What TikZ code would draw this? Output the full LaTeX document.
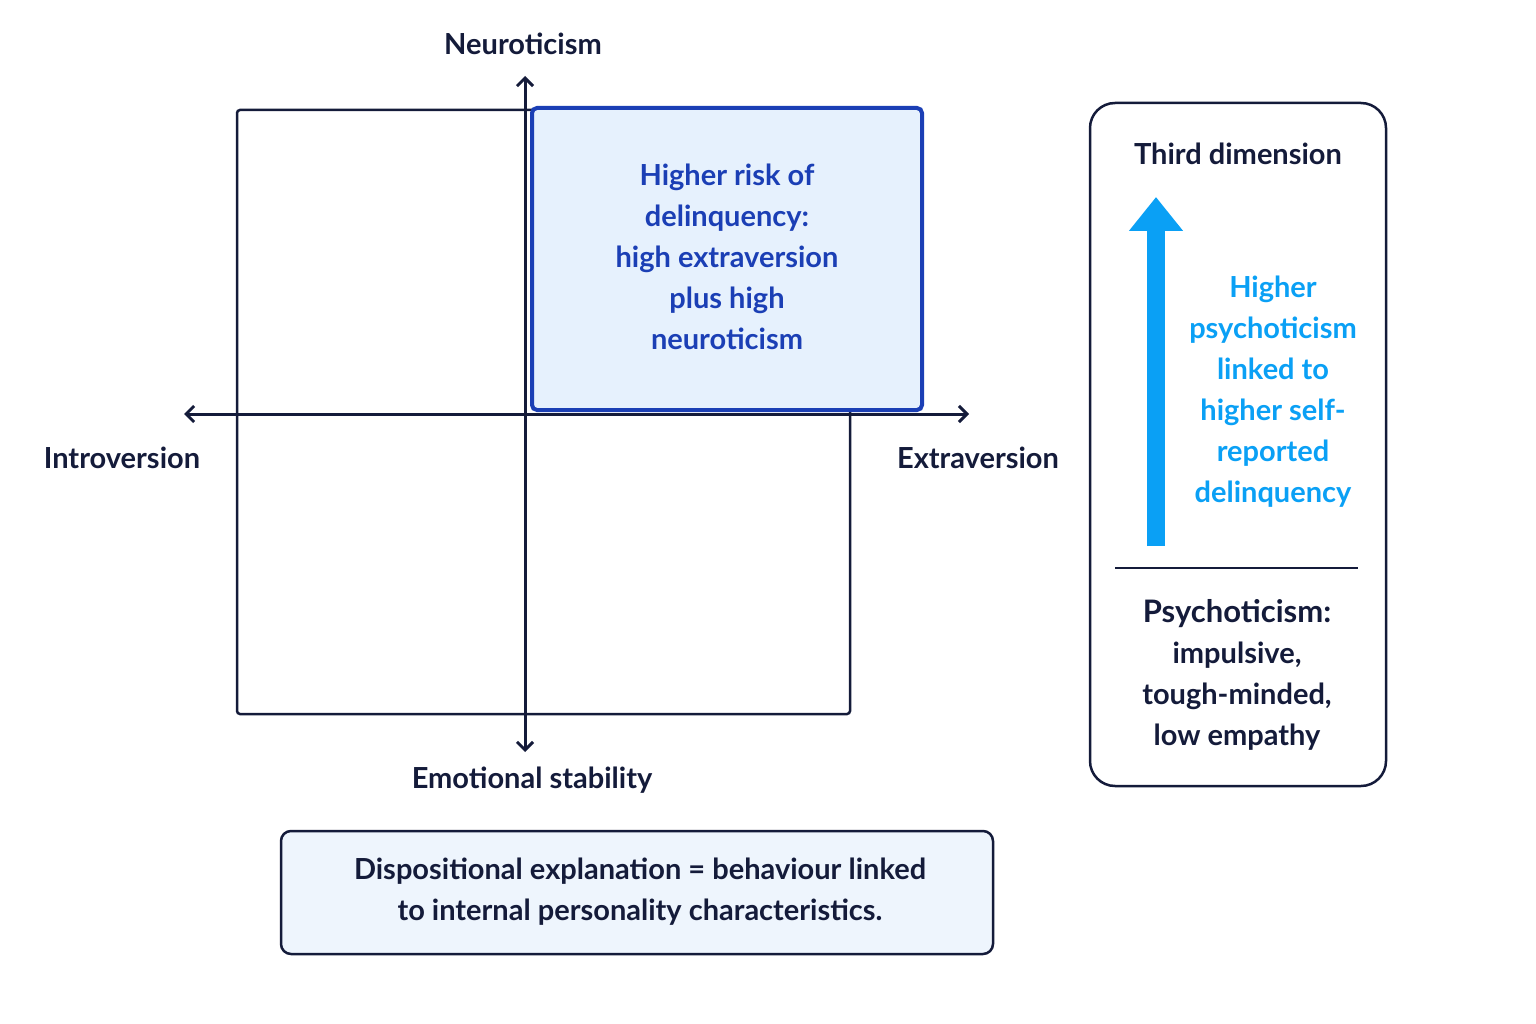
\documentclass[tikz,border=0pt]{standalone}
\usepackage{fontspec}
\setmainfont{Lato}
\usetikzlibrary{arrows.meta}
\definecolor{navy}{HTML}{141B3A}
\definecolor{hblue}{HTML}{1B3FB5}
\definecolor{hfill}{HTML}{E6F1FD}
\definecolor{cyanb}{HTML}{0AA0F5}
\definecolor{bfill}{HTML}{EEF5FD}
\begin{document}
\begin{tikzpicture}[x=1pt,y=-1pt,
  txt/.style={font=\fontsize{29}{41}\selectfont\bfseries,text=navy,align=center,inner sep=0},
  ax/.style={navy,line width=3pt,{Straight Barb[length=8pt,width=16pt]}-{Straight Barb[length=8pt,width=16pt]}}]
\useasboundingbox (0,0) rectangle (1536,1024);
\node[draw=navy,line width=2.5pt,rounded corners=3pt,minimum width=613pt,minimum height=604pt,inner sep=0] (sq) at (543.5,412) {};
\node[draw=hblue,fill=hfill,line width=4pt,rounded corners=5pt,minimum width=390pt,minimum height=302pt,inner sep=0] (hi) at (727,259) {};
\node[txt,text=hblue] (hit) at (727,257) {Higher risk of\\delinquency:\\high extraversion\\plus high\\neuroticism};
\coordinate (vt) at (525,76); \coordinate (vb) at (525,752);
\coordinate (hl) at (184,414); \coordinate (hr) at (969,414);
\draw[ax] (vb) -- (vt);
\draw[ax] (hl) -- (hr);
\node[txt] (neu) at (523,44) {Neuroticism};
\node[txt] (intro) at (122,458) {Introversion};
\node[txt] (extra) at (978,458) {Extraversion};
\node[txt] (emo) at (532,780) {Emotional stability};
\node[draw=navy,fill=bfill,line width=2.5pt,rounded corners=10pt,minimum width=712pt,minimum height=123pt,inner sep=0] (disp) at (637,892.5) {};
\node[txt] (dispt) at (640,892) {Dispositional explanation = behaviour linked\\to internal personality characteristics.};
\node[draw=navy,line width=2.5pt,rounded corners=25pt,minimum width=296pt,minimum height=683pt,inner sep=0] (rb) at (1238,444.5) {};
\node[txt] (third) at (1238,154) {Third dimension};
\coordinate (ab) at (1156,546); \coordinate (at) at (1156,197);
\draw[cyanb,line width=18pt,-{Triangle[length=34pt,width=52pt]}] (ab) -- (at);
\node[txt,text=cyanb] (psyc) at (1273,392) {Higher\\psychoticism\\linked to\\higher self-\\reported\\delinquency};
\coordinate (sl) at (1115,568); \coordinate (sr) at (1358,568);
\draw[navy,line width=2.5pt] (sl) -- (sr);
\node[txt] (psy) at (1237,675) {{\fontsize{31}{41}\selectfont Psychoticism:}\\impulsive,\\tough-minded,\\low empathy};
\end{tikzpicture}
\end{document}
